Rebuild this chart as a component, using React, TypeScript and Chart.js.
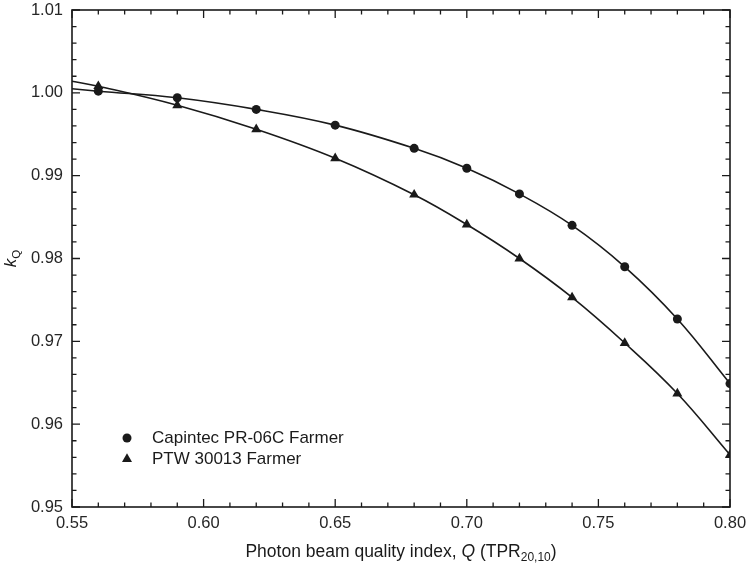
import React, { useEffect, useRef } from 'react';
import { Chart, registerables } from 'chart.js';

Chart.register(...registerables);

// ---- data ----
const qValues = [0.56, 0.59, 0.62, 0.65, 0.68, 0.70, 0.72, 0.74, 0.76, 0.78, 0.80];
const capintecKQ = [1.0002, 0.9994, 0.998, 0.9961, 0.9933, 0.9909, 0.9878, 0.984, 0.979, 0.9727, 0.9649];
const ptwKQ = [1.0008, 0.9985, 0.9956, 0.9921, 0.9877, 0.9841, 0.98, 0.9753, 0.9698, 0.9637, 0.9563];
// fitted curves extend back to the left edge of the plot
const fitStartQ = 0.55;
const capintecFitStart = 1.0005;
const ptwFitStart = 1.0014;

const seriesNames = ['Capintec PR-06C Farmer', 'PTW 30013 Farmer'];
const xTickValues = [0.55, 0.6, 0.65, 0.7, 0.75, 0.8];
const yTickValues = [0.95, 0.96, 0.97, 0.98, 0.99, 1.0, 1.01];
const xMinorStep = 0.01;
const yMinorStep = 0.002;

const FONT = "'Liberation Sans', Arial, Helvetica, sans-serif";
const INK = '#1a1a1a';

function drawMixed(ctx: CanvasRenderingContext2D, parts: { t: string; font: string; dy: number }[], cx: number, baseY: number) {
  let total = 0;
  for (const p of parts) {
    ctx.font = p.font;
    total += ctx.measureText(p.t).width;
  }
  let x = cx - total / 2;
  ctx.textAlign = 'left';
  ctx.textBaseline = 'alphabetic';
  for (const p of parts) {
    ctx.font = p.font;
    ctx.fillText(p.t, x, baseY + p.dy);
    x += ctx.measureText(p.t).width;
  }
}

const decorPlugin = {
  id: 'decor',
  afterDraw(chart: any) {
    const { ctx, chartArea: a, scales } = chart;
    const xs = scales.x;
    const ys = scales.y;
    ctx.save();
    ctx.strokeStyle = INK;
    ctx.lineWidth = 1.6;
    ctx.strokeRect(a.left, a.top, a.right - a.left, a.bottom - a.top);

    ctx.lineWidth = 1.3;
    ctx.beginPath();
    const nx = Math.round((xs.max - xs.min) / xMinorStep);
    for (let i = 0; i <= nx; i++) {
      const v = xs.min + i * xMinorStep;
      const px = xs.getPixelForValue(v);
      const len = i % 5 === 0 ? 8 : 4.5;
      ctx.moveTo(px, a.bottom);
      ctx.lineTo(px, a.bottom - len);
      ctx.moveTo(px, a.top);
      ctx.lineTo(px, a.top + len);
    }
    const ny = Math.round((ys.max - ys.min) / yMinorStep);
    for (let i = 0; i <= ny; i++) {
      const v = ys.min + i * yMinorStep;
      const py = ys.getPixelForValue(v);
      const len = i % 5 === 0 ? 8 : 4.5;
      ctx.moveTo(a.left, py);
      ctx.lineTo(a.left + len, py);
      ctx.moveTo(a.right, py);
      ctx.lineTo(a.right - len, py);
    }
    ctx.stroke();

    // x axis title
    ctx.fillStyle = INK;
    const cx = (a.left + a.right) / 2;
    drawMixed(
      ctx,
      [
        { t: 'Photon beam quality index, ', font: `17.5px ${FONT}`, dy: 0 },
        { t: 'Q', font: `italic 17.5px ${FONT}`, dy: 0 },
        { t: ' (TPR', font: `17.5px ${FONT}`, dy: 0 },
        { t: '20,10', font: `12px ${FONT}`, dy: 4 },
        { t: ')', font: `17.5px ${FONT}`, dy: 0 },
      ],
      cx,
      557
    );

    // y axis title
    ctx.save();
    ctx.translate(16, ys.getPixelForValue(0.98));
    ctx.rotate(-Math.PI / 2);
    drawMixed(
      ctx,
      [
        { t: 'k', font: `italic 17px ${FONT}`, dy: 0 },
        { t: 'Q', font: `11.5px ${FONT}`, dy: 4 },
      ],
      0,
      0
    );
    ctx.restore();

    // legend
    const lx = a.left + 55;
    const ly1 = a.bottom - 69;
    const ly2 = a.bottom - 48;
    ctx.fillStyle = INK;
    ctx.beginPath();
    ctx.arc(lx, ly1, 4.5, 0, Math.PI * 2);
    ctx.fill();
    const r = 5.8;
    ctx.beginPath();
    ctx.moveTo(lx, ly2 - r);
    ctx.lineTo(lx + r * Math.sin((2 * Math.PI) / 3), ly2 - r * Math.cos((2 * Math.PI) / 3));
    ctx.lineTo(lx + r * Math.sin((4 * Math.PI) / 3), ly2 - r * Math.cos((4 * Math.PI) / 3));
    ctx.closePath();
    ctx.fill();
    ctx.font = `17px ${FONT}`;
    ctx.textAlign = 'left';
    ctx.textBaseline = 'middle';
    ctx.fillText(seriesNames[0], lx + 25, ly1);
    ctx.fillText(seriesNames[1], lx + 25, ly2);
    ctx.restore();
  },
};

export default function App() {
  const ref = useRef<HTMLCanvasElement | null>(null);
  useEffect(() => {
    if (!ref.current) return;
    const capPts = qValues.map((q, i) => ({ x: q, y: capintecKQ[i] }));
    const ptwPts = qValues.map((q, i) => ({ x: q, y: ptwKQ[i] }));
    const chart = new Chart(ref.current, {
      type: 'scatter',
      data: {
        datasets: [
          {
            label: seriesNames[0] + ' fit',
            data: [{ x: fitStartQ, y: capintecFitStart }, ...capPts],
            showLine: true,
            pointRadius: 0,
            borderColor: INK,
            borderWidth: 1.6,
            tension: 0.4,
          },
          {
            label: seriesNames[1] + ' fit',
            data: [{ x: fitStartQ, y: ptwFitStart }, ...ptwPts],
            showLine: true,
            pointRadius: 0,
            borderColor: INK,
            borderWidth: 1.6,
            tension: 0.4,
          },
          {
            label: seriesNames[0],
            data: capPts,
            pointStyle: 'circle',
            pointRadius: 4.5,
            backgroundColor: INK,
            borderColor: INK,
            borderWidth: 0,
          },
          {
            label: seriesNames[1],
            data: ptwPts,
            pointStyle: 'triangle',
            pointRadius: 5.8,
            backgroundColor: INK,
            borderColor: INK,
            borderWidth: 0,
          },
        ],
      },
      options: {
        animation: false,
        responsive: false,
        layout: { padding: { left: 0, top: 10, right: 17, bottom: 0 } },
        plugins: {
          legend: { display: false },
          tooltip: { enabled: false },
        },
        scales: {
          x: {
            type: 'linear',
            min: 0.55,
            max: 0.8,
            grid: { display: false, drawTicks: false },
            border: { display: false },
            afterBuildTicks: (s: any) => {
              s.ticks = xTickValues.map((v) => ({ value: v }));
            },
            afterFit: (s: any) => {
              s.height = 63;
              s.paddingLeft = 0;
              s.paddingRight = 0;
            },
            ticks: {
              padding: 7,
              color: '#262626',
              font: { family: FONT, size: 16.5 },
              maxRotation: 0,
              callback: (v: any) => Number(v).toFixed(2),
            },
          },
          y: {
            type: 'linear',
            min: 0.95,
            max: 1.01,
            grid: { display: false, drawTicks: false },
            border: { display: false },
            afterBuildTicks: (s: any) => {
              s.ticks = yTickValues.map((v) => ({ value: v }));
            },
            afterFit: (s: any) => {
              s.width = 72;
              s.paddingTop = 0;
              s.paddingBottom = 0;
            },
            ticks: {
              padding: 9,
              color: '#262626',
              font: { family: FONT, size: 16.5 },
              callback: (v: any) => Number(v).toFixed(2),
            },
          },
        },
      },
      plugins: [decorPlugin],
    });
    return () => chart.destroy();
  }, []);
  return (
    <div style={{ position: 'absolute', left: 0, top: 0, width: 747, height: 570, background: '#fff' }}>
      <canvas ref={ref} width={747} height={570} style={{ width: 747, height: 570, display: 'block' }} />
    </div>
  );
}
